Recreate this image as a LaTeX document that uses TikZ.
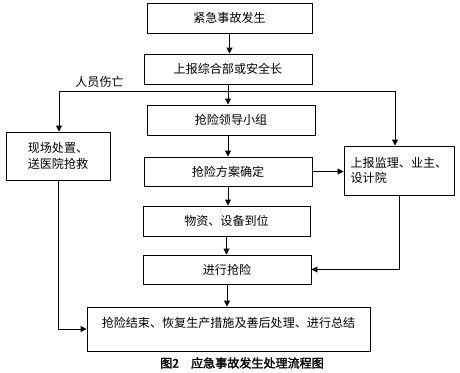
\documentclass[tikz,border=0pt]{standalone}
\usepackage{fontspec}
\setmainfont{Noto Sans CJK SC}
\newfontfamily\cjkbold[FakeBold=2]{Noto Sans CJK SC}
\usetikzlibrary{arrows.meta}
\tikzset{
  flowbox/.style={draw,line width=0.8pt,inner sep=0pt,font=\fontsize{10.3}{13}\selectfont},
  flowarr/.style={line width=0.8pt,-{Triangle[length=5pt,width=5pt]}},
  flowline/.style={line width=0.8pt}
}

\begin{document}
\begin{tikzpicture}[x=0.03cm,y=-0.03cm]
  \useasboundingbox (0,0) rectangle (460,372);
  \node[flowbox,minimum width=4.95cm,minimum height=0.9cm] (occur) at (229.5,18) {紧急事故发生};
  \node[flowbox,minimum width=5.04cm,minimum height=0.9cm] (report) at (228,69) {上报综合部或安全长};
  \node[flowbox,minimum width=5.04cm,minimum height=0.9cm] (leader) at (231,120) {抢险领导小组};
  \node[flowbox,minimum width=5.04cm,minimum height=0.87cm] (plan) at (228,171.5) {抢险方案确定};
  \node[flowbox,minimum width=5.01cm,minimum height=0.9cm] (supply) at (226.5,221) {物资、设备到位};
  \node[flowbox,minimum width=5.04cm,minimum height=0.87cm] (rescue) at (227,269.5) {进行抢险};
  \node[flowbox,minimum width=3.12cm,minimum height=1.44cm,align=center] (onsite) at (58,156)
    {现场处置、\\送医院抢救};
  \node[flowbox,minimum width=3.3cm,minimum height=1.47cm,text width=2.9cm,align=left] (supervise) at (399,170.5)
    {上报监理、业主、\\设计院};
  \node[flowbox,minimum width=8.49cm,text height=0.6cm,text depth=0.72cm] (finish) at (228.5,329)
    {抢险结束、恢复生产措施及善后处理、进行总结};
  \node[font=\fontsize{10.3}{13}\selectfont] (casualty) at (99.5,82) {人员伤亡};
  \node[font=\fontsize{10.3}{13}\cjkbold] (caption) at (242,363) {图2\quad 应急事故发生处理流程图};

  \coordinate (hurt) at (59,91);
  \coordinate (notify) at (395,91);
  \draw[flowarr] (occur.south) -- (occur.south |- report.north);
  \draw[flowarr] (report.south) -- (report.south |- leader.north);
  \draw[flowline] (hurt) -- (notify);
  \draw[flowarr] (hurt) -- (hurt |- onsite.north);
  \draw[flowarr] (notify) -- (notify |- supervise.north);
  \draw[flowarr] (leader.south -| plan.north) -- (plan.north);
  \draw[flowarr] (plan.east) -- (plan.east -| supervise.west);
  \draw[flowarr] (plan.south) -- (plan.south |- supply.north);
  \draw[flowarr] (supply.south) -- (supply.south |- rescue.north);
  \draw[flowarr] (supervise.south) |- (rescue.east);
  \draw[flowarr] (rescue.south) -- (rescue.south |- finish.north);
  \draw[flowarr] (onsite.south) |- (finish.west);
\end{tikzpicture}
\end{document}
